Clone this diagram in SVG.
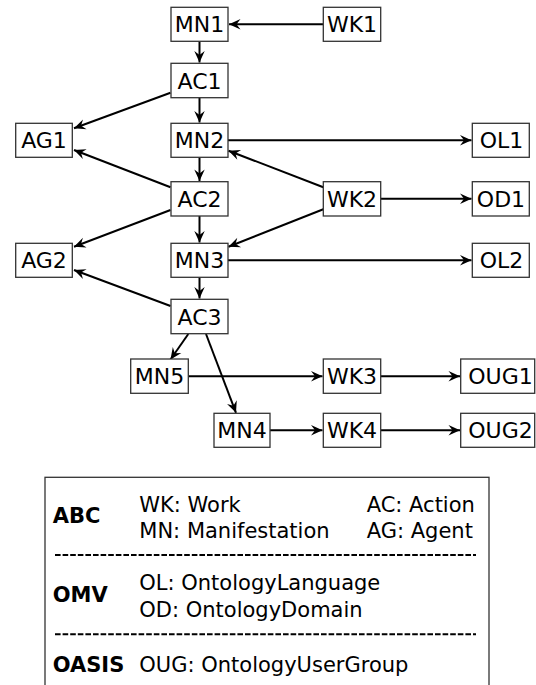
<svg xmlns="http://www.w3.org/2000/svg" width="536" height="685" viewBox="0 0 536 685">
<style>
.n rect{fill:#fff;stroke:#333;stroke-width:1.3}
.n text{font-family:"DejaVu Sans",sans-serif;font-size:22px;text-anchor:middle;fill:#000}
.e line{stroke:#000;stroke-width:2;marker-end:url(#arr)}
.lg{font-family:"DejaVu Sans",sans-serif;font-size:21px;fill:#000}
.b{font-weight:bold}
.dash{stroke:#000;stroke-width:2;stroke-dasharray:5.6 2}
</style>
<defs>
<marker id="arr" viewBox="-12 -7 13 14" refX="0" refY="0" markerWidth="13" markerHeight="14" markerUnits="userSpaceOnUse" orient="auto">
<path d="M0,0 L-11.5,-5.2 L-7.5,0 L-11.5,5.2 Z" fill="#000"/>
</marker>
</defs>
<g id="edges" class="e">
<line x1="323" y1="24.3" x2="229" y2="24.3"/>
<line x1="199.5" y1="41.3" x2="199.5" y2="62.5"/>
<line x1="199.5" y1="97.7" x2="199.5" y2="122.5"/>
<line x1="170.5" y1="92.7" x2="74" y2="128.3"/>
<line x1="170.5" y1="187.3" x2="74" y2="150"/>
<line x1="199.5" y1="157.3" x2="199.5" y2="181"/>
<line x1="323.3" y1="187.3" x2="228.5" y2="150.7"/>
<line x1="228" y1="140.3" x2="471.5" y2="140.3"/>
<line x1="380.7" y1="198.7" x2="471.5" y2="198.7"/>
<line x1="323.3" y1="209.3" x2="228.5" y2="246.7"/>
<line x1="170.5" y1="210" x2="74" y2="246.7"/>
<line x1="199.5" y1="216" x2="199.5" y2="242.5"/>
<line x1="228" y1="260.3" x2="471.5" y2="260.3"/>
<line x1="199.5" y1="277.3" x2="199.5" y2="298.5"/>
<line x1="170.5" y1="306" x2="74" y2="270"/>
<line x1="188.3" y1="334" x2="170.5" y2="359.5"/>
<line x1="206" y1="334" x2="236" y2="412.8"/>
<line x1="188.3" y1="376.2" x2="322.5" y2="376.2"/>
<line x1="380.7" y1="376.2" x2="460" y2="376.2"/>
<line x1="270" y1="430.3" x2="322.5" y2="430.3"/>
<line x1="380.7" y1="430.3" x2="460" y2="430.3"/>
</g>
<g id="MN1" class="n"><rect x="171" y="7.3" width="57" height="34"/><text x="199.5" y="32.3">MN1</text></g>
<g id="WK1" class="n"><rect x="323.3" y="7.3" width="57.4" height="34"/><text x="352" y="32.3">WK1</text></g>
<g id="AC1" class="n"><rect x="171" y="63.3" width="57" height="34.4"/><text x="199.5" y="88.5">AC1</text></g>
<g id="AG1" class="n"><rect x="15.7" y="123.3" width="56.6" height="34"/><text x="44" y="148.3">AG1</text></g>
<g id="MN2" class="n"><rect x="171" y="123.3" width="57" height="34"/><text x="199.5" y="148.3">MN2</text></g>
<g id="OL1" class="n"><rect x="472.3" y="123.3" width="57" height="34"/><text x="501.5" y="148.3">OL1</text></g>
<g id="AC2" class="n"><rect x="171" y="181.7" width="57" height="34.3"/><text x="199.5" y="206.8">AC2</text></g>
<g id="WK2" class="n"><rect x="323.3" y="181.7" width="57.4" height="34.3"/><text x="352" y="206.8">WK2</text></g>
<g id="OD1" class="n"><rect x="472.3" y="181.7" width="57" height="34.3"/><text x="501" y="206.8">OD1</text></g>
<g id="AG2" class="n"><rect x="15.7" y="243.3" width="56.6" height="34"/><text x="44" y="268.3">AG2</text></g>
<g id="MN3" class="n"><rect x="171" y="243.3" width="57" height="34"/><text x="199.5" y="268.3">MN3</text></g>
<g id="OL2" class="n"><rect x="472.3" y="243.3" width="57" height="34"/><text x="501.5" y="268.3">OL2</text></g>
<g id="AC3" class="n"><rect x="171" y="299.3" width="57" height="34.4"/><text x="199.5" y="324.5">AC3</text></g>
<g id="MN5" class="n"><rect x="130.7" y="359" width="57.6" height="34.3"/><text x="159.5" y="384.2">MN5</text></g>
<g id="WK3" class="n"><rect x="323.3" y="359" width="57.4" height="34.3"/><text x="352" y="384.2">WK3</text></g>
<g id="OUG1" class="n"><rect x="460.7" y="359" width="74" height="34.3"/><text x="500.5" y="384.2">OUG1</text></g>
<g id="MN4" class="n"><rect x="214" y="413.3" width="56" height="34"/><text x="242" y="438.3">MN4</text></g>
<g id="WK4" class="n"><rect x="323.3" y="413.3" width="57.4" height="34"/><text x="352" y="438.3">WK4</text></g>
<g id="OUG2" class="n"><rect x="460.7" y="413.3" width="74" height="34"/><text x="500.5" y="438.3">OUG2</text></g>
<g id="legend">
<rect x="45" y="477.3" width="444" height="240" fill="#fff" stroke="#333" stroke-width="1.3"/>
<text class="lg b" x="52.7" y="523.3">ABC</text>
<text class="lg" x="139.3" y="511.7">WK: Work</text>
<text class="lg" x="139.3" y="538.3">MN: Manifestation</text>
<text class="lg" x="366.7" y="511.7">AC: Action</text>
<text class="lg" x="366.7" y="538.3">AG: Agent</text>
<line class="dash" x1="55" y1="555" x2="476" y2="555"/>
<text class="lg b" x="52.7" y="601.7">OMV</text>
<text class="lg" x="139.3" y="590">OL: OntologyLanguage</text>
<text class="lg" x="139.3" y="616.7">OD: OntologyDomain</text>
<line class="dash" x1="55" y1="634.3" x2="476" y2="634.3"/>
<text class="lg b" x="52.7" y="671.7">OASIS</text>
<text class="lg" x="139.3" y="671.7">OUG: OntologyUserGroup</text>
</g>
</svg>
